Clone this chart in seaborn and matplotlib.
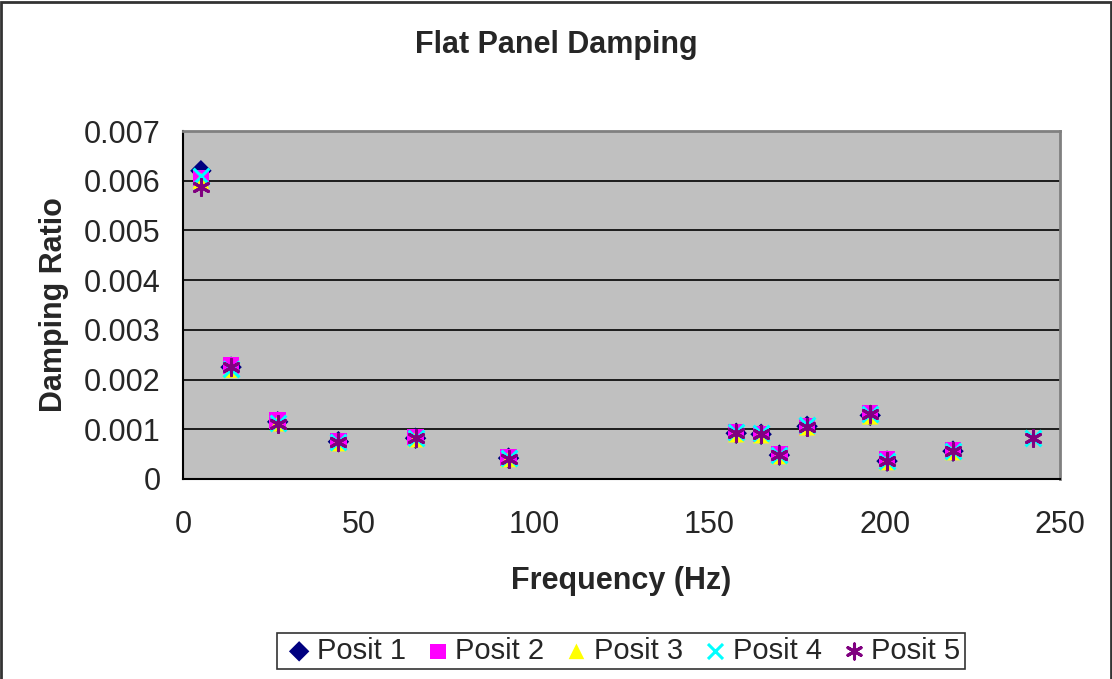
import numpy as np
import pandas as pd
import matplotlib
matplotlib.use("Agg")
import matplotlib.pyplot as plt
import seaborn as sns
from matplotlib.patches import Rectangle

freq = [5.1, 13.7, 27.0, 44.3, 66.3, 92.8, 157.7, 164.8, 170.0, 177.9, 195.9, 200.7, 219.5, 242.3]
posit1 = [0.00620, 0.00225, 0.00115, 0.00075, 0.00082, 0.00042, 0.00092, 0.00090, 0.00048, 0.00106, 0.00128, 0.00036, 0.00056, np.nan]
posit2 = [0.00605, 0.00228, 0.00118, 0.00076, 0.00084, 0.00043, 0.00094, 0.00091, 0.00050, 0.00106, 0.00132, 0.00040, 0.00058, np.nan]
posit3 = [0.00600, 0.00220, 0.00112, 0.00072, 0.00080, 0.00040, 0.00090, 0.00088, 0.00046, 0.00104, 0.00126, 0.00034, 0.00054, np.nan]
posit4 = [0.00610, 0.00222, 0.00112, 0.00074, 0.00082, 0.00042, 0.00094, 0.00092, 0.00048, 0.00108, 0.00130, 0.00037, 0.00056, 0.00082]
posit5 = [0.00587, 0.00225, 0.00110, 0.00074, 0.00082, 0.00041, 0.00092, 0.00090, 0.00048, 0.00105, 0.00130, 0.00037, 0.00056, 0.00082]
series_names = ["Posit 1", "Posit 2", "Posit 3", "Posit 4", "Posit 5"]
y_ticks = [0, 0.001, 0.002, 0.003, 0.004, 0.005, 0.006, 0.007]
y_tick_labels = ["0", "0.001", "0.002", "0.003", "0.004", "0.005", "0.006", "0.007"]
x_ticks = [0, 50, 100, 150, 200, 250]

sns.set_style("white")
plt.rcParams["font.family"] = ["Liberation Sans", "DejaVu Sans"]

fig = plt.figure(figsize=(11.12, 6.79), dpi=100)
ax = fig.add_axes([183/1112, 1 - 479/679, (1060-183)/1112, (479-131)/679])
ax.set_facecolor("#C0C0C0")

styles = [
    dict(marker="D", color="#000080", s=120, edgecolor="none"),
    dict(marker="s", color="#FF00FF", s=140, edgecolor="none"),
    dict(marker="^", color="#FFFF00", s=140, edgecolor="none"),
    dict(marker="x", color="#00FFFF", s=130, linewidth=2.2),
    dict(marker=(6, 2, 0), color="#800080", s=130, linewidth=2.2),
]
data = [posit1, posit2, posit3, posit4, posit5]
for name, vals, st in zip(series_names, data, styles):
    df = pd.DataFrame({"Frequency": freq, "Damping": vals}).dropna()
    sns.scatterplot(data=df, x="Frequency", y="Damping", ax=ax, label=name, zorder=3, **st)

ax.set_xlim(0, 250)
ax.set_ylim(0, 0.007)
ax.set_xticks(x_ticks)
ax.set_yticks(y_ticks)
ax.set_yticklabels(y_tick_labels)
ax.tick_params(axis="both", labelsize=22, direction="out", length=8, width=1.2, color="black")
ax.tick_params(axis="x", pad=14)
ax.tick_params(axis="y", pad=8)
ax.yaxis.grid(True, color="black", linewidth=1.2, zorder=0)
ax.set_axisbelow(True)
for side in ["left", "bottom"]:
    ax.spines[side].set_color("black")
    ax.spines[side].set_linewidth(1.5)
for side in ["top", "right"]:
    ax.spines[side].set_color("#808080")
    ax.spines[side].set_linewidth(2)

ax.set_xlabel("Frequency (Hz)", fontsize=22, fontweight="bold", labelpad=19)
ax.set_ylabel("Damping Ratio", fontsize=22, fontweight="bold", labelpad=11)
fig.text(0.5 + 0.0, 1 - 45/679, "Flat Panel Damping", ha="center", va="center", fontsize=22, fontweight="bold")

leg = ax.legend(loc="center", bbox_to_anchor=(621/1112, 1 - 651/679), bbox_transform=fig.transFigure,
                ncol=5, fontsize=21, frameon=True, fancybox=False, handletextpad=0.0,
                columnspacing=0.5, borderpad=0.15, handlelength=1.2, markerscale=0.95)
leg.get_frame().set_edgecolor("black")
leg.get_frame().set_linewidth(1.2)

fig.patches.append(Rectangle((0.001, -0.01), 0.998, 1.0075, transform=fig.transFigure, fill=False,
                             edgecolor="#333333", linewidth=2, figure=fig))

fig.savefig("out.png", dpi=100, facecolor="white")
